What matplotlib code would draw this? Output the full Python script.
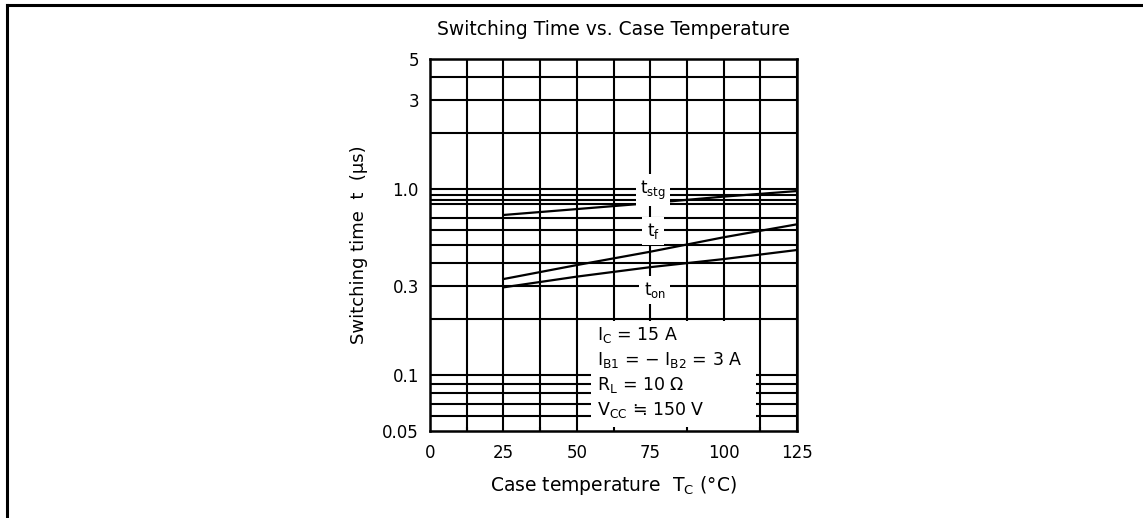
import matplotlib
matplotlib.use('Agg')
import matplotlib.pyplot as plt
from matplotlib.lines import Line2D
from matplotlib.patches import Rectangle

plt.rcParams['font.family'] = ['DejaVu Sans']
plt.rcParams['mathtext.default'] = 'regular'

# data
temp = [25, 50, 75, 100, 125]
t_stg = [0.725, 0.78, 0.84, 0.91, 0.975]
t_f = [0.328, 0.39, 0.46, 0.55, 0.646]
t_on = [0.296, 0.338, 0.38, 0.42, 0.47]

x_ticks = [0, 25, 50, 75, 100, 125]
x_grid = [0, 12.5, 25, 37.5, 50, 62.5, 75, 87.5, 100, 112.5, 125]
y_ticks = [0.05, 0.1, 0.3, 1.0, 3, 5]
y_tick_labels = ['0.05', '0.1', '0.3', '1.0', '3', '5']
y_grid_main = [0.2, 0.3, 0.4, 0.5, 0.6, 0.7, 0.83, 0.875, 0.93, 1.0, 2, 3, 4, 5]
y_grid_low = [0.06, 0.07, 0.08, 0.09, 0.1]

fig = plt.figure(figsize=(11.43, 5.18), dpi=100)
ax = fig.add_axes([430 / 1143, 1 - 431 / 518, 367 / 1143, 372 / 518])
ax.set_yscale('log')
ax.set_xlim(0, 125)
ax.set_ylim(0.05, 5)

lw = 1.5
for y in y_grid_main:
    ax.axhline(y, color='black', lw=lw, zorder=1)
for y in y_grid_low:
    ax.axhline(y, color='black', lw=lw, zorder=1)
for x in x_grid:
    ax.axvline(x, color='black', lw=lw, zorder=1)

# blank area behind the conditions text
ax.add_patch(Rectangle((55, 0.05), 56, 0.145, facecolor='white',
                       edgecolor='none', zorder=1.2))

ax.plot(temp, t_stg, color='black', lw=1.6, zorder=2)
ax.plot(temp, t_f, color='black', lw=1.6, zorder=2)
ax.plot(temp, t_on, color='black', lw=1.6, zorder=2)

lab_box = dict(facecolor='white', edgecolor='none', pad=3)
ax.text(76, 0.985, r'$t_{stg}$', fontsize=12, ha='center', va='center', bbox=lab_box, zorder=3)
ax.text(76, 0.595, r'$t_{f}$', fontsize=12, ha='center', va='center', bbox=lab_box, zorder=3)
ax.text(76.5, 0.287, r'$t_{on}$', fontsize=12, ha='center', va='center', bbox=lab_box, zorder=3)

cond = [r'$I_{C}$ = 15 A',
        r'$I_{B1}$ = − $I_{B2}$ = 3 A',
        r'$R_{L}$ = 10 Ω',
        r'$V_{CC}$ ≒ 150 V']
for i, s in enumerate(cond):
    ax.text(57, 0.165 / (1.363 ** i), s, fontsize=12.5, ha='left', va='center', zorder=3)

ax.set_xticks(x_ticks)
ax.set_xticks(x_grid, minor=True)
ax.set_yticks(y_ticks)
ax.set_yticklabels(y_tick_labels)
ax.yaxis.set_minor_locator(matplotlib.ticker.NullLocator())
ax.tick_params(axis='x', which='major', length=0, pad=9, labelsize=12)
ax.tick_params(axis='x', which='minor', direction='in', length=3, width=1.5)
ax.tick_params(axis='y', length=0, pad=8, labelsize=12)
for sp in ax.spines.values():
    sp.set_linewidth(1.8)
    sp.set_zorder(4)

ax.set_title('Switching Time vs. Case Temperature', fontsize=13.5, pad=17)
ax.set_xlabel(r'Case temperature  $T_{C}$ (°C)', fontsize=13.5, labelpad=9)
ax.set_ylabel('Switching time  t  (μs)', fontsize=13, labelpad=10)

# page border (top and left)
fig.add_artist(Line2D([0.0057, 1], [0.9894, 0.9894], color='black', lw=2.2))
fig.add_artist(Line2D([0.0057, 0.0057], [0, 0.9894], color='black', lw=2.2))

fig.savefig('out.png', dpi=100)
